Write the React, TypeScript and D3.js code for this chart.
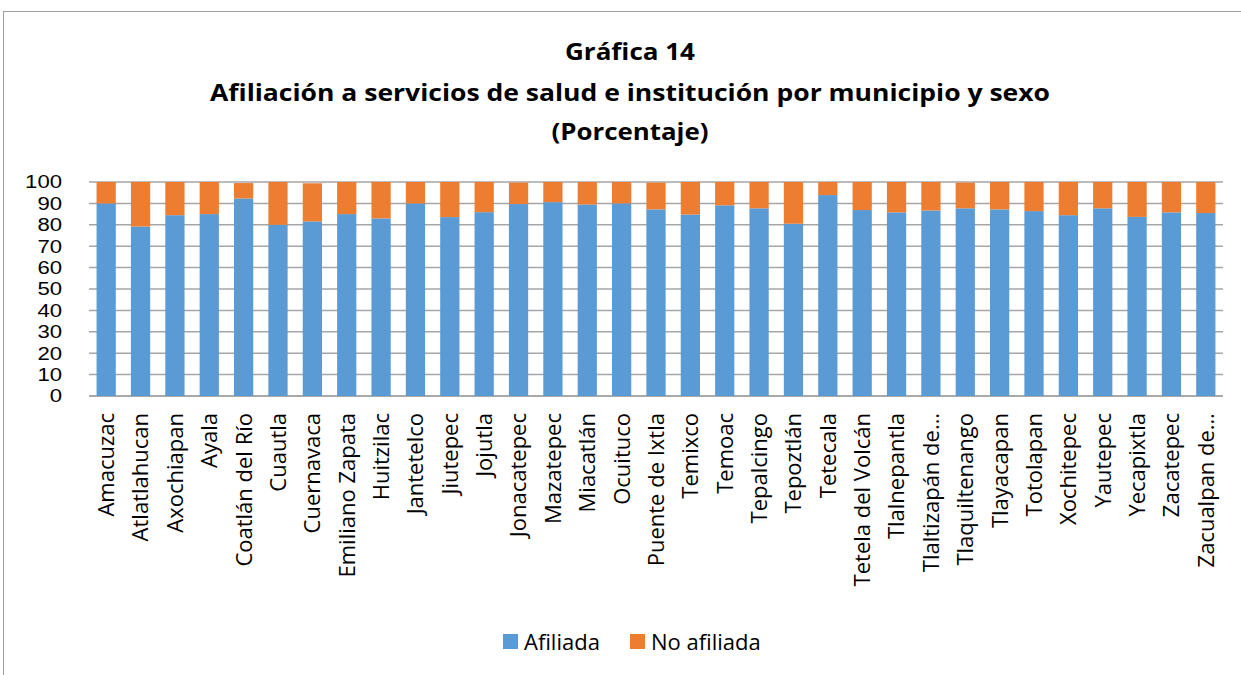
import React, { useRef, useEffect } from 'react';
import * as d3 from 'd3';

const municipios = [
  'Amacuzac', 'Atlatlahucan', 'Axochiapan', 'Ayala', 'Coatlán del Río', 'Cuautla',
  'Cuernavaca', 'Emiliano Zapata', 'Huitzilac', 'Jantetelco', 'Jiutepec', 'Jojutla',
  'Jonacatepec', 'Mazatepec', 'Miacatlán', 'Ocuituco', 'Puente de Ixtla', 'Temixco',
  'Temoac', 'Tepalcingo', 'Tepoztlán', 'Tetecala', 'Tetela del Volcán', 'Tlalnepantla',
  'Tlaltizapán de…', 'Tlaquiltenango', 'Tlayacapan', 'Totolapan', 'Xochitepec',
  'Yautepec', 'Yecapixtla', 'Zacatepec', 'Zacualpan de…',
];

const afiliada = [
  90.0, 79.2, 84.5, 85.0, 92.3, 80.0, 81.6, 85.0, 83.0, 90.0, 83.6, 85.9, 89.7, 90.6,
  89.5, 90.0, 87.2, 84.8, 89.1, 87.7, 80.5, 93.9, 86.9, 85.8, 86.7, 87.7, 87.2, 86.4,
  84.5, 87.7, 83.7, 85.8, 85.5,
];

const noAfiliada = [
  10.0, 20.8, 15.5, 15.0, 7.2, 20.0, 17.8, 15.0, 17.0, 10.0, 16.4, 14.1, 10.0, 9.4,
  10.5, 10.0, 12.5, 15.2, 10.9, 12.3, 19.5, 6.1, 13.1, 14.2, 13.3, 12.0, 12.8, 13.6,
  15.5, 12.3, 16.3, 14.2, 14.5,
];

const yTicks = [0, 10, 20, 30, 40, 50, 60, 70, 80, 90, 100];
const series = ['Afiliada', 'No afiliada'];
const colors = ['#5b9bd5', '#ed7d31'];

const W = 1241;
const H = 675;
const FONT = "'Open Sans', 'Noto Sans', sans-serif";

const App = () => {
  const svgRef = useRef<SVGSVGElement>(null);

  useEffect(() => {
    const svg = d3.select(svgRef.current);
    svg.selectAll('*').remove();

    // frame
    svg.append('rect')
      .attr('x', 3.5).attr('y', 11.5)
      .attr('width', W + 10).attr('height', H + 10)
      .attr('fill', 'white').attr('stroke', '#a0a0a0');

    // title
    const titles = [
      { t: 'Gráfica 14', y: 60, len: 130 },
      { t: 'Afiliación a servicios de salud e institución por municipio y sexo', y: 101, len: 840 },
      { t: '(Porcentaje)', y: 140, len: 157 },
    ];
    svg.selectAll('.title')
      .data(titles)
      .join('text')
      .attr('class', 'title')
      .attr('x', 630)
      .attr('y', (d) => d.y)
      .attr('text-anchor', 'middle')
      .attr('textLength', (d) => d.len)
      .attr('lengthAdjust', 'spacingAndGlyphs')
      .style('font-family', FONT)
      .style('font-weight', 'bold')
      .style('font-size', '24px')
      .text((d) => d.t);

    const left = 89;
    const right = 1223;
    const top = 182;
    const bottom = 396;

    const xScale = d3.scaleBand().domain(municipios).range([left, right]).paddingInner(0.44).paddingOuter(0.22);
    const yScale = d3.scaleLinear().domain([0, 100]).range([bottom, top]);

    // gridlines
    svg.append('g')
      .selectAll('line')
      .data(yTicks)
      .join('line')
      .attr('x1', left).attr('x2', right)
      .attr('y1', (d) => yScale(d)).attr('y2', (d) => yScale(d))
      .attr('stroke', (d) => (d === 0 ? '#8c8c8c' : '#a6a6a6'))
      .attr('stroke-width', 1.5);

    // stacked bars
    const rows = municipios.map((m, i) => ({ m, Afiliada: afiliada[i], 'No afiliada': noAfiliada[i] }));
    const stacked = d3.stack<any>().keys(series)(rows);

    svg.append('g')
      .selectAll('g')
      .data(stacked)
      .join('g')
      .attr('fill', (_d, i) => colors[i])
      .selectAll('rect')
      .data((d) => d)
      .join('rect')
      .attr('x', (d: any) => xScale(d.data.m) as number)
      .attr('width', xScale.bandwidth())
      .attr('y', (d) => yScale(d[1]))
      .attr('height', (d) => yScale(d[0]) - yScale(d[1]));

    // y axis labels
    svg.append('g')
      .selectAll('text')
      .data(yTicks)
      .join('text')
      .attr('x', 62)
      .attr('y', (d) => yScale(d))
      .attr('dy', '0.36em')
      .attr('text-anchor', 'end')
      .attr('textLength', (d) => String(d).length * 12.3)
      .attr('lengthAdjust', 'spacingAndGlyphs')
      .style('font-family', "'Liberation Sans', Arial, sans-serif")
      .style('font-size', '18px')
      .style('fill', '#000')
      .text((d) => d);

    // category labels
    svg.append('g')
      .selectAll('text')
      .data(municipios)
      .join('text')
      .attr('transform', (d) => `translate(${(xScale(d) as number) + xScale.bandwidth() / 2},${bottom + 17}) rotate(-90)`)
      .attr('dy', '0.36em')
      .attr('text-anchor', 'end')
      .style('font-family', FONT)
      .style('font-size', '22px')
      .style('fill', '#000')
      .text((d) => d);

    // legend
    const legend = [
      { label: series[0], color: colors[0], x: 503 },
      { label: series[1], color: colors[1], x: 630 },
    ];
    const lg = svg.append('g').selectAll('g').data(legend).join('g');
    lg.append('rect')
      .attr('x', (d) => d.x).attr('y', 634)
      .attr('width', 15).attr('height', 15)
      .attr('fill', (d) => d.color);
    lg.append('text')
      .attr('x', (d) => d.x + 21)
      .attr('y', 642)
      .attr('dy', '0.36em')
      .style('font-family', FONT)
      .style('font-size', '22px')
      .text((d) => d.label);
  }, []);

  return <svg ref={svgRef} width={W} height={H} style={{ position: 'absolute', left: 0, top: 0 }}></svg>;
};

export default App;
